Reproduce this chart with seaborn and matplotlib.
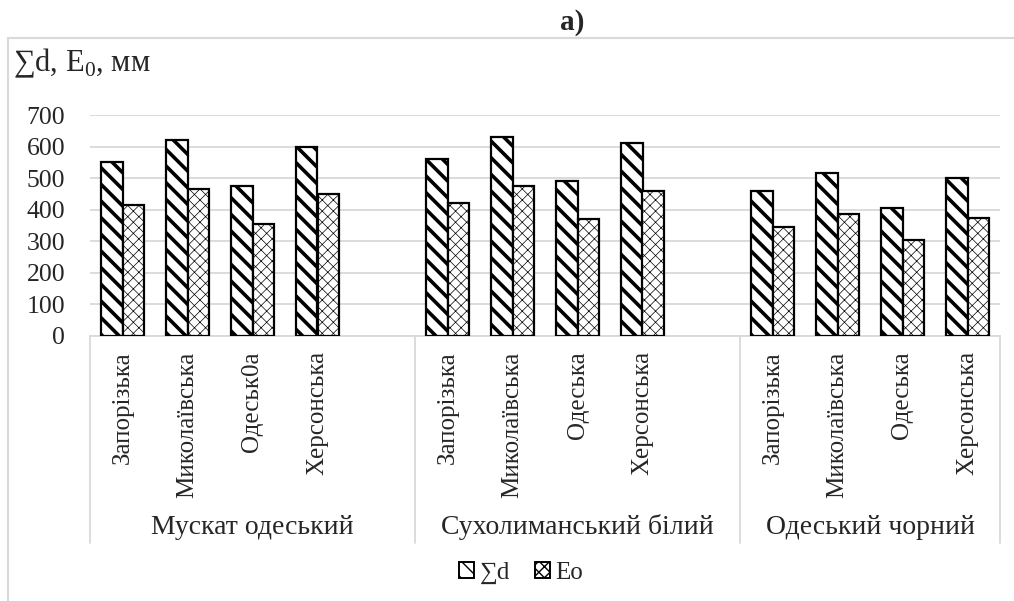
import numpy as np
import pandas as pd
import seaborn as sns
import matplotlib.pyplot as plt
from matplotlib.patches import Rectangle, Patch
import matplotlib.transforms as mtransforms

groups = ["Мускат одеський", "Сухолиманський білий", "Одеський чорний"]
regions = [["Запорізька", "Миколаївська", "Одеськ0а", "Херсонська"],
           ["Запорізька", "Миколаївська", "Одеська", "Херсонська"],
           ["Запорізька", "Миколаївська", "Одеська", "Херсонська"]]
sum_d = [550, 620, 475, 600, 560, 630, 490, 610, 460, 515, 405, 500]
eo = [415, 465, 355, 450, 420, 475, 370, 460, 345, 385, 305, 375]
series = ["∑d", "Eo"]

sns.set_style("white")
plt.rcParams['font.family'] = ['Liberation Serif', 'DejaVu Serif']
plt.rcParams['mathtext.fontset'] = 'custom'
plt.rcParams['mathtext.rm'] = 'Liberation Serif'
plt.rcParams['hatch.color'] = 'black'

# long table, one key per slot so repeated region names stay apart
rows = []
order = []
labels = []
k = 0
for g, grp in enumerate(groups):
    for r in regions[g]:
        key = f"{g}_{r}"
        order.append(key)
        labels.append(r)
        rows.append([key, series[0], sum_d[k]])
        rows.append([key, series[1], eo[k]])
        k += 1
    if g < len(groups) - 1:
        order.append(f"blank_{g}")
        labels.append("")
df = pd.DataFrame(rows, columns=["slot", "series", "value"])

fig = plt.figure(figsize=(10.14, 6.01), dpi=100)
ax = fig.add_axes([90/1014, 265/601, 910/1014, 221/601])

sns.barplot(data=df, x="slot", y="value", hue="series", order=order,
            hue_order=series, width=0.66, gap=0, dodge=True,
            palette=["white", "white"], edgecolor="black", linewidth=1.6,
            legend=False, ax=ax, zorder=3)

hatches = [r"\\", "xxx"]
hatch_lw = [2.6, 0.5]
for cont, h, lw in zip(ax.containers, hatches, hatch_lw):
    for bar in cont:
        bar.set_hatch(h)
        if hasattr(bar, "set_hatch_linewidth"):
            bar.set_hatch_linewidth(lw)

ax.set_ylim(0, 700)
ax.set_xlim(-0.5, len(order) - 0.5)
ax.set_yticks(range(0, 701, 100))
ax.yaxis.grid(True, color="#d9d9d9", linewidth=1.3, zorder=0)
ax.set_axisbelow(True)
for s in ["top", "right", "left"]:
    ax.spines[s].set_visible(False)
ax.spines["bottom"].set_color("#d9d9d9")
ax.spines["bottom"].set_linewidth(1.3)
ax.set_xlabel("")
ax.set_ylabel("")
ax.set_xticks(range(len(order)))
ax.set_xticklabels(labels, rotation=90, va="top", ha="center")
ax.tick_params(axis="x", length=0, pad=11, labelsize=18)
ax.tick_params(axis="y", length=0, pad=18, labelsize=18.5)

# group separators and group names below category labels
trans = mtransforms.blended_transform_factory(ax.transData, ax.transAxes)
for xs in [-0.5, 4.5, 9.5, len(order) - 0.5]:
    ax.plot([xs, xs], [0, -0.935], transform=trans, color="#d9d9d9",
            linewidth=1.3, clip_on=False)
centers = [2, 7, 11.5]
for c, g in zip(centers, groups):
    ax.text(c, -0.866, g, transform=trans, ha="center", va="center",
            fontsize=20)

# axis title
fig.text(13/1014, 1 - 63/601, r"∑d, E$_{\mathrm{0}}$, мм", fontsize=22,
         ha="left", va="center")
fig.text(572/1014, 1 - 23/601, "a)", fontsize=21, fontweight="bold",
         ha="center", va="center")

# chart area border
fig.add_artist(Rectangle((8/1014, -0.01), 1.0, 1 - 38/601 + 0.01,
                         transform=fig.transFigure, fill=False,
                         edgecolor="#d9d9d9", linewidth=1.5))

handles = []
for s, h, lw in zip(series, hatches, hatch_lw):
    p = Patch(facecolor="white", edgecolor="black", hatch=h, linewidth=1.4,
              label=s)
    if hasattr(p, "set_hatch_linewidth"):
        p.set_hatch_linewidth(lw)
    handles.append(p)
fig.legend(handles=handles, loc="center", bbox_to_anchor=(521/1014, 1 - 573/601),
           ncol=2, frameon=False, fontsize=18, handlelength=0.6,
           handleheight=0.6, handletextpad=0.2, columnspacing=1.0)

plt.savefig("out.png", dpi=100)
